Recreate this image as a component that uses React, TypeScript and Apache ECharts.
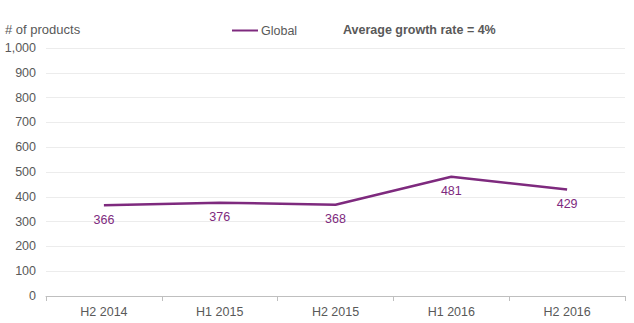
import React, { useEffect, useRef } from "react";
import * as echarts from "echarts";

const categories = ["H2 2014", "H1 2015", "H2 2015", "H1 2016", "H2 2016"];
const globalValues = [366, 376, 368, 481, 429];
const seriesName = "Global";
const yAxisTitle = "# of products";
const noteText = "Average growth rate = 4%";

export default function App() {
  const ref = useRef<HTMLDivElement>(null);
  useEffect(() => {
    document.body.style.margin = "0";
    const chart = echarts.init(ref.current!, null, { renderer: "svg" });
    const grey = "#595959";
    const purple = "#7E2A7E";
    const ff = "Liberation Sans, Arial, sans-serif";
    chart.setOption({
      animation: false,
      backgroundColor: "#ffffff",
      textStyle: { fontFamily: ff },
      title: [
        {
          text: yAxisTitle,
          left: 5,
          top: 23,
          padding: 0,
          textStyle: { fontSize: 13, fontWeight: "normal", color: grey, fontFamily: ff },
        },
        {
          text: noteText,
          left: 343,
          top: 23,
          padding: 0,
          textStyle: { fontSize: 12.5, fontWeight: "bold", color: grey, fontFamily: ff },
        },
      ],
      legend: {
        left: 232,
        top: 24,
        padding: 0,
        icon: "rect",
        itemWidth: 26,
        itemHeight: 2,
        itemGap: 4,
        textStyle: { fontSize: 12.5, color: grey, padding: [0, 0, 0, -2] },
        data: [seriesName],
      },
      grid: { left: 46, right: 9, top: 48, bottom: 27, containLabel: false },
      xAxis: {
        type: "category",
        data: categories,
        boundaryGap: true,
        axisLine: { lineStyle: { color: "#bfbfbf" } },
        axisTick: { show: true, lineStyle: { color: "#bfbfbf" }, length: 5 },
        axisLabel: { color: grey, fontSize: 12.5, margin: 9 },
        splitLine: { show: false },
      },
      yAxis: {
        type: "value",
        min: 0,
        max: 1000,
        interval: 100,
        axisLine: { show: false },
        axisTick: { show: false },
        axisLabel: {
          color: grey,
          fontSize: 12.5,
          margin: 10,
          formatter: (v: number) => v.toLocaleString("en-US"),
        },
        splitLine: { lineStyle: { color: "#ececec", width: 1 } },
      },
      series: [
        {
          name: seriesName,
          type: "line",
          data: globalValues,
          showSymbol: true,
          symbol: "circle",
          symbolSize: 0,
          lineStyle: { color: purple, width: 2.5 },
          itemStyle: { color: purple },
          label: {
            show: true,
            position: "bottom",
            distance: 8,
            color: purple,
            fontSize: 12.5,
          },
        },
      ],
    });
    return () => chart.dispose();
  }, []);
  return <div ref={ref} style={{ width: 634, height: 323 }} />;
}
